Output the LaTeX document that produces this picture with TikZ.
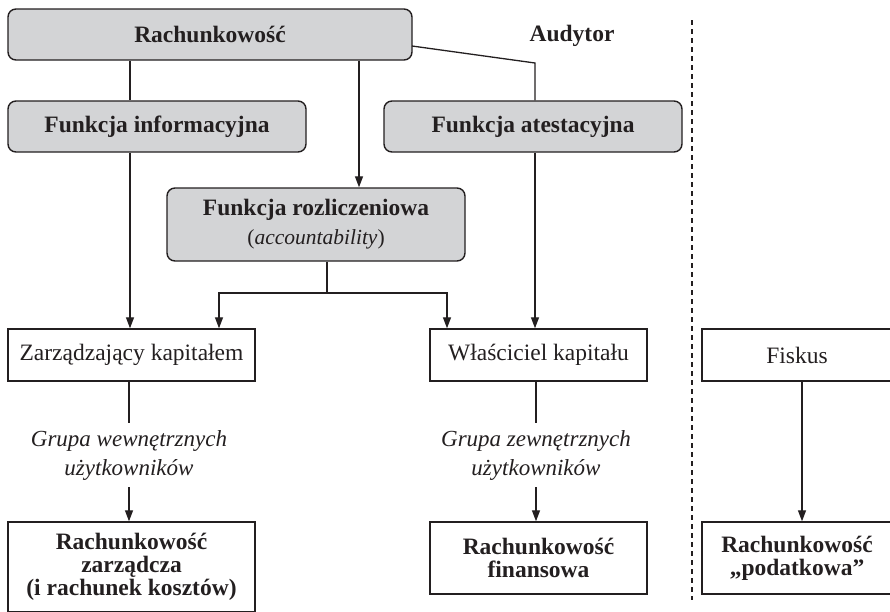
\documentclass[tikz,border=0pt]{standalone}
\usepackage{fontspec}
\setmainfont{Liberation Serif}
\usetikzlibrary{arrows.meta,calc}
\definecolor{boxgray}{RGB}{211,212,214}
\definecolor{ink}{RGB}{35,31,32}
\begin{document}
\begin{tikzpicture}[x=1pt,y=-1pt,
  every node/.style={text=ink},
  box/.style={draw=ink,line width=1.4pt,inner sep=0pt,align=center,font=\fontsize{23.5}{25}\selectfont},
  gbox/.style={box,fill=boxgray,rounded corners=8pt,font=\fontsize{23.5}{29}\selectfont\bfseries},
  bbox/.style={box,font=\fontsize{23.5}{23}\selectfont\bfseries},
  lab/.style={align=center,inner sep=0pt,font=\fontsize{23}{29}\selectfont\itshape},
  conn/.style={draw=ink,line width=1.3pt},
  arr/.style={conn,-{Triangle[length=11pt,width=8pt]}}
]
\useasboundingbox (0,0) rectangle (890,611);
\clip (0,0) rectangle (890,611);

% nodes
\node[gbox,minimum width=404pt,minimum height=51pt] (R) at (210,34.5) {Rachunkowość};
\node[gbox,minimum width=298pt,minimum height=51pt] (FI) at (157,126.5) {Funkcja informacyjna};
\node[gbox,minimum width=298pt,minimum height=51pt] (FA) at (533,126.5) {Funkcja atestacyjna};
\node[gbox,minimum width=298pt,minimum height=73pt] (FR) at (316,224.5) {Funkcja rozliczeniowa\\{\mdseries\fontsize{21.5}{29}\selectfont(\textit{accountability})}};
\node[font=\fontsize{23.5}{23}\selectfont\bfseries,inner sep=0pt] (AU) at (572,36) {Audytor};

\node[box,minimum width=247pt,minimum height=52pt] (Z) at (131.5,355) {Zarządzający kapitałem};
\node[box,minimum width=217pt,minimum height=52pt] (W) at (538.5,355) {Właściciel kapitału};
\node[box,minimum width=190pt,minimum height=52pt] (F) at (797,355) {Fiskus};

\node[lab,minimum height=64pt] (GW) at (129,455) {Grupa wewnętrznych\\użytkowników};
\node[lab,minimum height=64pt] (GZ) at (536,455) {Grupa zewnętrznych\\użytkowników};

\node[bbox,minimum width=247pt,minimum height=90pt] (RZ) at (131.5,567) {Rachunkowość\\zarządcza\\(i rachunek kosztów)};
\node[bbox,minimum width=217pt,minimum height=72pt] (RF) at (538.5,558) {Rachunkowość\\finansowa};
\node[bbox,minimum width=190pt,minimum height=72pt] (RP) at (797,558) {Rachunkowość\\„podatkowa”};

% helper coordinates
\coordinate (cx1) at (130,0);
\coordinate (cx2) at (359,0);
\coordinate (au) at (535,63);
\coordinate (rs) at (412,46);
\coordinate (sp) at (327,293);
\coordinate (spl) at (219,293);
\coordinate (spr) at (447,293);
\coordinate (d1) at (692,20);
\coordinate (d2) at (692,600);
\coordinate (fx) at (802,0);

% connectors
\draw[conn] (R.south -| cx1) -- (FI.north -| cx1);
\draw[arr] (FI.south -| cx1) -- (Z.north -| cx1);
\draw[arr] (R.south -| cx2) -- (FR.north -| cx2);
\draw[conn] (rs) -- (au) -- (au |- FA.north);
\draw[arr] (au |- FA.south) -- (au |- W.north);
\draw[conn] (FR.south -| sp) -- (sp);
\draw[arr] (sp) -- (spl) -- (spl |- Z.north);
\draw[arr] (sp) -- (spr) -- (spr |- W.north);
\draw[conn] (Z.south -| GW) -- (GW.north);
\draw[arr] (GW.south) -- (RZ.north -| GW);
\draw[conn] (W.south -| GZ) -- (GZ.north);
\draw[arr] (GZ.south) -- (RF.north -| GZ);
\draw[arr] (F.south -| fx) -- (RP.north -| fx);
\draw[draw=ink,line width=1.2pt,dash pattern=on 5pt off 4pt] (d1) -- (d2);
\end{tikzpicture}
\end{document}
